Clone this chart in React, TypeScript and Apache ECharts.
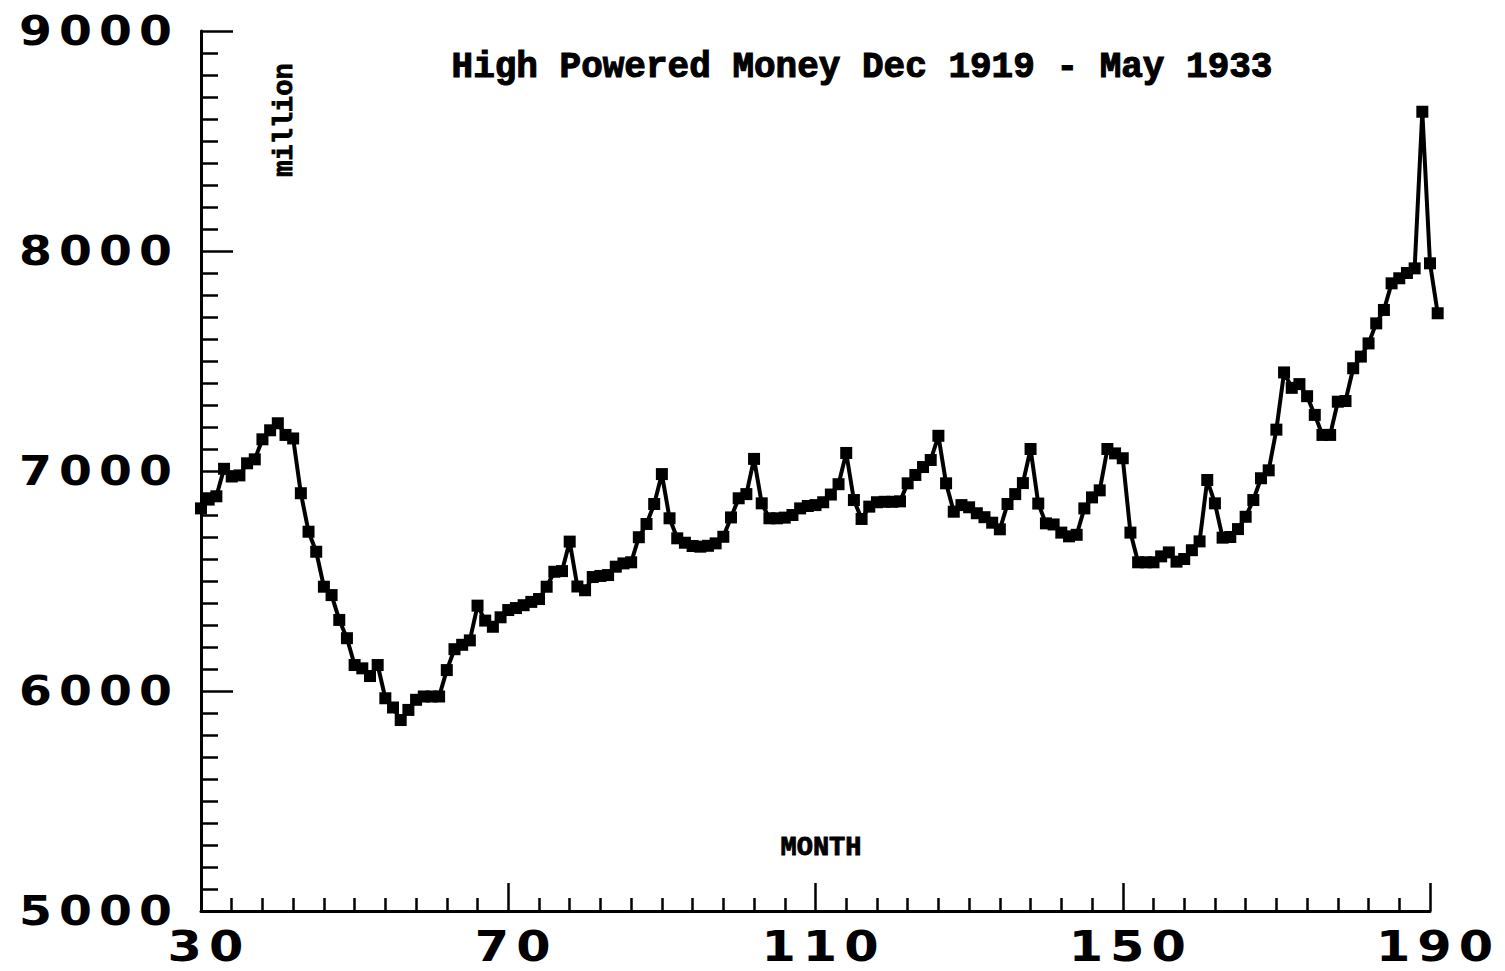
import React, { useEffect, useRef } from "react";
import * as echarts from "echarts";

// Month index of the first observation (Dec 1919 = month 30)
const startMonth = 30;
const lastMonth = 191;

// High powered money, $ million, monthly Dec 1919 .. May 1933 (months 30..191)
const highPoweredMoney = [
  6830, 6870, 6885, 7010, 6975, 6980, 7035, 7053, 7144, 7185, // 30-39
  7217, 7164, 7148, 6899, 6724, 6633, 6474, 6436, 6323, 6240, // 40-49
  6118, 6103, 6068, 6118, 5967, 5925, 5868, 5914, 5960, 5975, // 50-59
  5975, 5975, 6095, 6190, 6210, 6230, 6388, 6320, 6292, 6335, // 60-69
  6368, 6377, 6390, 6405, 6418, 6474, 6542, 6545, 6679, 6475, // 70-79
  6458, 6518, 6523, 6527, 6565, 6580, 6585, 6699, 6759, 6850, // 80-89
  6986, 6785, 6694, 6674, 6659, 6656, 6660, 6671, 6701, 6789, // 90-99
  6876, 6895, 7055, 6853, 6785, 6785, 6788, 6800, 6830, 6841, // 100-109
  6845, 6858, 6893, 6940, 7082, 6868, 6782, 6838, 6858, 6860, // 110-119
  6860, 6862, 6944, 6982, 7018, 7050, 7160, 6944, 6815, 6845, // 120-129
  6835, 6808, 6790, 6765, 6735, 6850, 6895, 6945, 7100, 6852, // 130-139
  6762, 6757, 6720, 6703, 6710, 6830, 6880, 6912, 7100, 7080, // 140-149
  7058, 6720, 6585, 6585, 6585, 6612, 6630, 6588, 6600, 6640, // 150-159
  6680, 6959, 6853, 6697, 6700, 6736, 6792, 6868, 6967, 7003, // 160-169
  7188, 7448, 7378, 7395, 7340, 7255, 7164, 7164, 7315, 7318, // 170-179
  7467, 7520, 7580, 7671, 7732, 7853, 7876, 7900, 7921, 8633, // 180-189
  7944, 7717, // 190-191
];

// axis scale (ticks every 40 months from 30, every 1000 from 5000)
const xMin = 30;
const xMax = 190;
const xStep = 40;
const yMin = 5000;
const yMax = 9000;
const yStep = 1000;

const titleText = "High Powered Money Dec 1919 - May 1933";
const yUnitText = "million";
const xNameText = "MONTH";

export default function App() {
  const ref = useRef<HTMLDivElement>(null);

  useEffect(() => {
    const el = ref.current;
    if (!el) return;
    const chart = echarts.init(el, null, { renderer: "svg" });
    const data = highPoweredMoney.map((v, i) => [startMonth + i, v]);

    const plotLeft = 201;
    const plotRight = 75;
    const plotWidth = 1505 - plotLeft - plotRight;
    const unit = plotWidth / (xMax - xMin);
    const dataRight = 1505 - plotLeft - unit * (lastMonth - xMin);

    const tickLabelFamily = '"DejaVu Sans", sans-serif';
    const monoFamily = '"Liberation Mono", "Courier New", monospace';
    const black = "#000";

    chart.setOption({
      animation: false,
      backgroundColor: "#ffffff",
      grid: [
        { left: plotLeft, right: plotRight, top: 31, bottom: 60, containLabel: false, outerBoundsMode: "none" },
        { left: plotLeft, right: dataRight, top: 31, bottom: 60, containLabel: false, outerBoundsMode: "none" },
      ],
      xAxis: [
        {
          gridIndex: 0,
          type: "value",
          min: xMin,
          max: xMax,
          interval: xStep,
          axisLine: { show: true, onZero: false, lineStyle: { color: black, width: 3 } },
          axisTick: { show: true, inside: true, length: 28, lineStyle: { color: black, width: 2.5 } },
          minorTick: { show: true, splitNumber: 10, length: 13, lineStyle: { color: black, width: 2.5 } },
          splitLine: { show: false },
          minorSplitLine: { show: false },
          axisLabel: {
            color: black,
            fontFamily: tickLabelFamily,
            fontWeight: "bold",
            fontSize: 42,
            margin: 14,
            padding: [0, 0, 0, 16],
          },
        },
        {
          gridIndex: 1,
          type: "value",
          min: xMin,
          max: lastMonth,
          show: false,
        },
      ],
      yAxis: [
        {
          gridIndex: 0,
          type: "value",
          min: yMin,
          max: yMax,
          interval: yStep,
          axisLine: { show: true, onZero: false, lineStyle: { color: black, width: 3 } },
          axisTick: { show: true, inside: true, length: 32, lineStyle: { color: black, width: 2.5 } },
          minorTick: { show: true, splitNumber: 10, length: 17, lineStyle: { color: black, width: 2.5 } },
          splitLine: { show: false },
          minorSplitLine: { show: false },
          axisLabel: {
            color: black,
            fontFamily: tickLabelFamily,
            fontWeight: "bold",
            fontSize: 40,
            margin: 22,
            formatter: (v: number) => String(v),
          },
        },
        {
          gridIndex: 1,
          type: "value",
          min: yMin,
          max: yMax,
          show: false,
        },
      ],
      series: [
        {
          type: "line",
          xAxisIndex: 1,
          yAxisIndex: 1,
          data,
          clip: false,
          symbol: "rect",
          symbolSize: 12,
          showSymbol: true,
          showAllSymbol: true,
          lineStyle: { color: black, width: 4 },
          itemStyle: { color: black },
        },
      ],
      graphic: [
        {
          type: "text",
          x: 862,
          y: 67,
          style: {
            text: titleText,
            textAlign: "center",
            textVerticalAlign: "middle",
            fontFamily: monoFamily,
            fontWeight: "bold",
            fontSize: 36,
            fill: black,
            stroke: black,
            lineWidth: 1.1,
          },
        },
        {
          type: "text",
          x: 285,
          y: 120,
          rotation: Math.PI / 2,
          style: {
            text: yUnitText,
            textAlign: "center",
            textVerticalAlign: "middle",
            fontFamily: monoFamily,
            fontWeight: "bold",
            fontSize: 27,
            fill: black,
            stroke: black,
            lineWidth: 0.9,
          },
        },
        {
          type: "text",
          x: 821,
          y: 848,
          style: {
            text: xNameText,
            textAlign: "center",
            textVerticalAlign: "middle",
            fontFamily: monoFamily,
            fontWeight: "bold",
            fontSize: 27,
            fill: black,
            stroke: black,
            lineWidth: 0.9,
          },
        },
      ],
    });

    // widen the tick-label digits like the original (extended) typeface
    el.querySelectorAll("text").forEach((t) => {
      const s = t.textContent || "";
      if (/^\d+$/.test(s)) {
        const pitch = s.length === 4 ? 40 : 41.4;
        t.setAttribute("letter-spacing", "6");
        t.setAttribute("textLength", String(pitch * s.length));
        t.setAttribute("lengthAdjust", "spacingAndGlyphs");
      }
    });

    return () => chart.dispose();
  }, []);

  return (
    <div
      ref={ref}
      style={{ position: "fixed", left: 0, top: 0, width: 1505, height: 971, background: "#fff" }}
    />
  );
}
